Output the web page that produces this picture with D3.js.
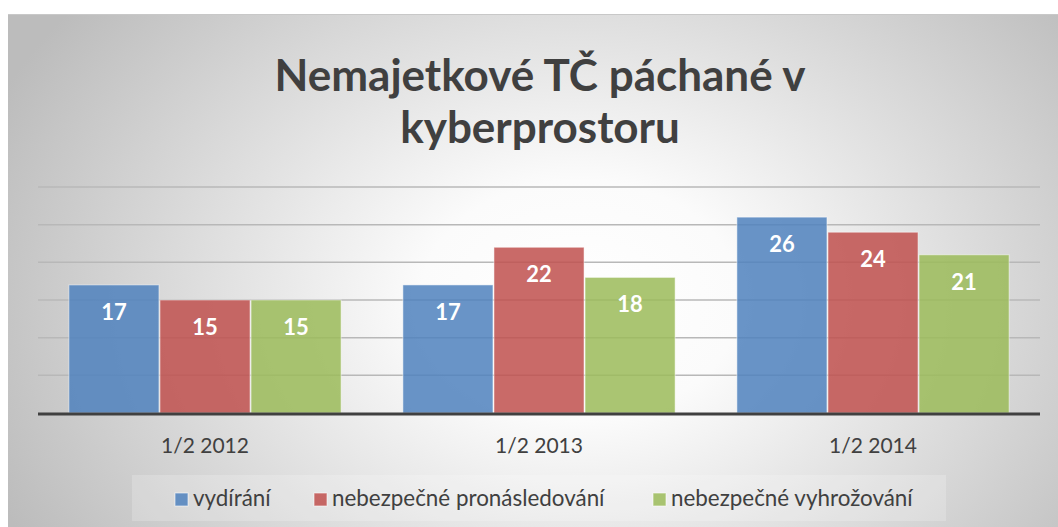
<!DOCTYPE html>
<html><head><meta charset="utf-8">
<script src="https://cdn.jsdelivr.net/npm/d3@7"></script>
<style>html,body{margin:0;padding:0;background:#fff;}svg{display:block;}</style>
</head><body>
<svg id="chart" width="1058" height="527"></svg>
<script>
const categories = ["1/2 2012", "1/2 2013", "1/2 2014"];
const seriesNames = ["vydírání", "nebezpečné pronásledování", "nebezpečné vyhrožování"];
const vydirani = [17, 17, 26];
const pronasledovani = [15, 22, 24];
const vyhrozovani = [15, 18, 21];
const yTicks = [0, 5, 10, 15, 20, 25, 30];
const titleLines = ["Nemajetkové TČ páchané v", "kyberprostoru"];
const colors = ["#4F81BD", "#C0504D", "#9BBB59"];

const series = [vydirani, pronasledovani, vyhrozovani];
const svg = d3.select("#chart");
const W = 1058, H = 527;

const defs = svg.append("defs");
const rg = defs.append("radialGradient").attr("id","bg")
  .attr("gradientUnits","userSpaceOnUse")
  .attr("cx",580).attr("cy",300).attr("r",640)
  .attr("gradientTransform","translate(580,300) scale(1,0.75) translate(-580,-300)");
rg.append("stop").attr("offset","0").attr("stop-color","#ffffff");
rg.append("stop").attr("offset","0.25").attr("stop-color","#fbfbfb");
rg.append("stop").attr("offset","1").attr("stop-color","#bcbcbc");

svg.append("rect").attr("x",0).attr("y",0).attr("width",W).attr("height",H).attr("fill","#fff");
svg.append("rect").attr("x",8).attr("y",14).attr("width",W-8).attr("height",H-14).attr("fill","url(#bg)");
svg.append("line").attr("x1",8).attr("x2",W).attr("y1",14.5).attr("y2",14.5).attr("stroke","#c8c8c8").attr("stroke-width",1);

// title
svg.append("g").selectAll("text").data(titleLines).join("text")
  .attr("x", 540).attr("y",(d,i)=>91 + i*52)
  .attr("text-anchor","middle")
  .attr("font-family","Lato, 'Open Sans', sans-serif")
  .attr("font-weight","bold").attr("font-size",44)
  .attr("fill","#404040").text(d=>d);

const plotL = 38, plotR = 1040, plotT = 187, plotB = 413;
const x0 = d3.scaleBand().domain(categories).range([plotL, plotR]).paddingInner(0.182).paddingOuter(0.091);
const x1 = d3.scaleBand().domain(d3.range(series.length)).range([0, x0.bandwidth()]).padding(0);
const y = d3.scaleLinear().domain([0, 30]).range([plotB, plotT]);

// gridlines
svg.append("g").selectAll("line").data(yTicks.filter(t=>t>0)).join("line")
  .attr("x1",plotL).attr("x2",plotR)
  .attr("y1",d=>y(d)).attr("y2",d=>y(d))
  .attr("stroke","#b8b8b8").attr("stroke-width",1.5);

// bars
const groups = svg.append("g").selectAll("g").data(categories).join("g")
  .attr("transform",c=>`translate(${x0(c)},0)`);
groups.each(function(c, ci){
  const g = d3.select(this);
  const data = series.map((s,si)=>({si, v:s[ci]}));
  g.selectAll("rect").data(data).join("rect")
    .attr("x",d=>x1(d.si)+0.5).attr("width",x1.bandwidth()-1)
    .attr("y",d=>y(d.v)).attr("height",d=>plotB-y(d.v))
    .attr("fill",d=>colors[d.si]).attr("fill-opacity",0.85)
    .attr("stroke","#ffffff").attr("stroke-opacity",0.5).attr("stroke-width",1);
  g.selectAll("text").data(data).join("text")
    .attr("x",d=>x1(d.si)+x1.bandwidth()/2)
    .attr("y",d=>y(d.v)+35)
    .attr("text-anchor","middle")
    .attr("font-family","Lato, sans-serif").attr("font-weight","bold")
    .attr("font-size",22).attr("fill","#ffffff").text(d=>d.v);
});

// baseline
svg.append("line").attr("x1",plotL).attr("x2",plotR).attr("y1",plotB+1).attr("y2",plotB+1)
  .attr("stroke","#404040").attr("stroke-width",3);

// category labels
const xAxis = d3.axisBottom(x0).tickSize(0).tickPadding(0);
const ax = svg.append("g").attr("transform",`translate(0,${plotB})`).call(xAxis);
ax.select(".domain").remove();
ax.selectAll("text").attr("y",40).attr("dy",0)
  .attr("font-family","Lato, sans-serif").attr("font-size",21).attr("fill","#404040");

// legend
svg.append("rect").attr("x",132).attr("y",475).attr("width",814).attr("height",46)
  .attr("fill","#ffffff").attr("fill-opacity",0.2);
const legX = [175, 314, 653];
const leg = svg.append("g").selectAll("g").data(seriesNames).join("g")
  .attr("transform",(d,i)=>`translate(${legX[i]},0)`);
leg.append("rect").attr("x",0).attr("y",493).attr("width",13).attr("height",13)
  .attr("fill",(d,i)=>colors[i]).attr("fill-opacity",0.85)
  .attr("stroke","#ffffff").attr("stroke-opacity",0.6);
leg.append("text").attr("x",18).attr("y",506)
  .attr("font-family","Lato, sans-serif").attr("font-size",22.4).attr("fill","#404040")
  .text(d=>d);
</script>
</body></html>
